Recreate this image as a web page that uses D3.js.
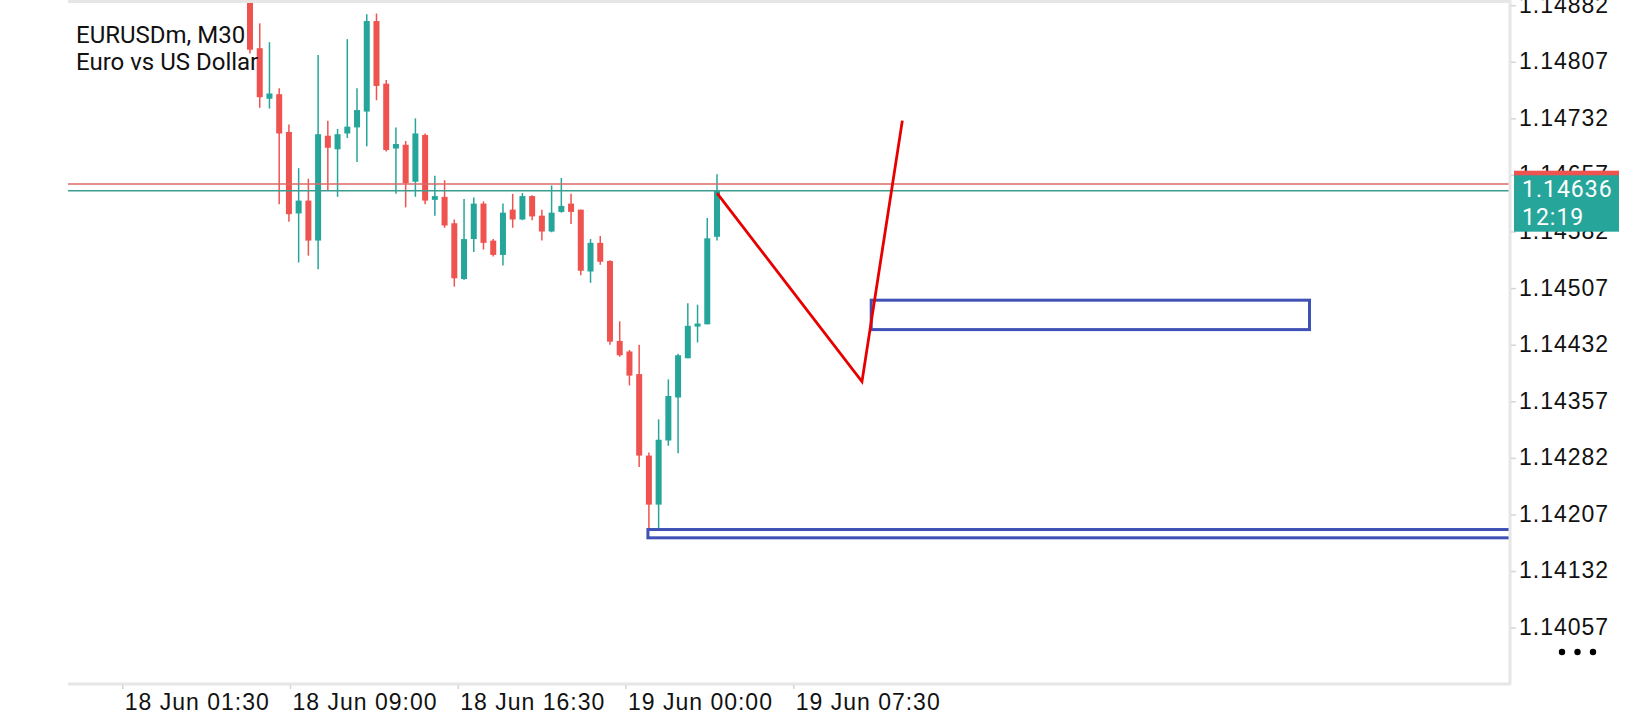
<!DOCTYPE html>
<html lang="en">
<head>
<meta charset="UTF-8">
<title>EURUSDm, M30</title>
<script src="https://d3js.org/d3.v7.min.js"></script>
<style>
  body { margin: 0; background: #fff; }
  svg { display: block; font-family: Roboto, "Noto Sans", sans-serif; }
  .axis text { font-size: 23px; fill: #111; letter-spacing: 1px; }
  .axis line { stroke: #d6d6d6; stroke-width: 1.5; }
</style>
</head>
<body>
<svg id="chart" width="1640" height="720"></svg>
<script>
// M30 candles, oldest first (first one runs off the top of the view)
const opens  = [1.14902, 1.14825, 1.14758, 1.14764, 1.14714, 1.14606, 1.14623, 1.14570, 1.14709, 1.14691,
                1.14712, 1.14720, 1.14741, 1.14861, 1.14778, 1.14692, 1.14697, 1.14648, 1.14710, 1.14624,
                1.14628, 1.14593, 1.14519, 1.14572, 1.14619, 1.14570, 1.14551, 1.14611, 1.14598, 1.14629,
                1.14603, 1.14582, 1.14608, 1.14619, 1.14611, 1.14529, 1.14567, 1.14543, 1.14437, 1.14423,
                1.14393, 1.14285, 1.14220, 1.14305, 1.14362, 1.14414, 1.14456, 1.14459, 1.14575];
const highs  = [1.14910, 1.14858, 1.14833, 1.14772, 1.14724, 1.14666, 1.14652, 1.14816, 1.14729, 1.14718,
                1.14837, 1.14772, 1.14870, 1.14871, 1.14783, 1.14720, 1.14702, 1.14732, 1.14712, 1.14656,
                1.14650, 1.14598, 1.14625, 1.14627, 1.14622, 1.14572, 1.14619, 1.14632, 1.14633, 1.14630,
                1.14611, 1.14643, 1.14653, 1.14632, 1.14611, 1.14572, 1.14576, 1.14544, 1.14463, 1.14425,
                1.14432, 1.14289, 1.14333, 1.14386, 1.14420, 1.14487, 1.14485, 1.14600, 1.14658];
const lows   = [1.14818, 1.14746, 1.14745, 1.14618, 1.14595, 1.14541, 1.14550, 1.14532, 1.14637, 1.14628,
                1.14706, 1.14674, 1.14695, 1.14756, 1.14688, 1.14632, 1.14614, 1.14628, 1.14618, 1.14603,
                1.14587, 1.14509, 1.14518, 1.14555, 1.14558, 1.14549, 1.14537, 1.14587, 1.14597, 1.14597,
                1.14570, 1.14581, 1.14607, 1.14592, 1.14524, 1.14514, 1.14538, 1.14432, 1.14416, 1.14378,
                1.14270, 1.14189, 1.14189, 1.14298, 1.14288, 1.14414, 1.14435, 1.14459, 1.14570];
const closes = [1.14823, 1.14760, 1.14765, 1.14712, 1.14605, 1.14623, 1.14570, 1.14711, 1.14693, 1.14711,
                1.14721, 1.14743, 1.14861, 1.14775, 1.14690, 1.14698, 1.14646, 1.14712, 1.14623, 1.14629,
                1.14590, 1.14520, 1.14572, 1.14619, 1.14567, 1.14551, 1.14607, 1.14598, 1.14629, 1.14602,
                1.14582, 1.14607, 1.14616, 1.14608, 1.14530, 1.14567, 1.14542, 1.14436, 1.14418, 1.14391,
                1.14285, 1.14220, 1.14306, 1.14364, 1.14418, 1.14457, 1.14460, 1.14573, 1.14636];

const bid = 1.14636, ask = 1.14645, timer = "12:19";

// price axis and time axis labels (time ticks sit at candle slots)
const yTicks = [1.14057, 1.14132, 1.14207, 1.14282, 1.14357, 1.14432, 1.14507, 1.14582, 1.14657, 1.14732, 1.14807, 1.14882];
const xTickAt = [-13.13, 4.11, 21.35, 38.59, 55.83];
const xTickLabels = ["18 Jun 01:30", "18 Jun 09:00", "18 Jun 16:30", "19 Jun 00:00", "19 Jun 07:30"];

// drawn objects: zig-zag trend line and two rectangles (slot, price)
const zigzagSlots  = [48, 62.9, 67.05];
const zigzagPrices = [1.14633, 1.14383, 1.14729];
const upperZone = { from: 63.85, to: 108.9, low: 1.14452, high: 1.14491 };
const lowerZone = { from: 40.9, to: null, low: 1.14176, high: 1.14187 };

const svg = d3.select("#chart");
const W = 1640, H = 720;
const plot = { left: 68, right: 1510, top: 3, bottom: 684 };

const x = d3.scaleLinear().domain([0, 48]).range([250, 717]);
const y = d3.scaleLinear().domain([1.14057, 1.14882]).range([627.6, 5.2]);

svg.append("rect").attr("width", W).attr("height", H).attr("fill", "#fff");

svg.append("defs").append("clipPath").attr("id", "plotClip")
   .append("rect")
   .attr("x", plot.left).attr("y", plot.top)
   .attr("width", plot.right - plot.left).attr("height", plot.bottom - plot.top);

const g = svg.append("g").attr("clip-path", "url(#plotClip)");

const candles = opens.map((o, i) => ({ i, o, h: highs[i], l: lows[i], c: closes[i] }));
const up = "#26a69a", down = "#ef5350";
const bodyW = 6;

// wicks
g.selectAll(".wick").data(candles).enter().append("line")
 .attr("x1", d => x(d.i)).attr("x2", d => x(d.i))
 .attr("y1", d => y(d.h)).attr("y2", d => y(d.l))
 .attr("stroke", d => d.c >= d.o ? up : down)
 .attr("stroke-width", 1.5);

// bodies
g.selectAll(".body").data(candles).enter().append("rect")
 .attr("x", d => x(d.i) - bodyW / 2)
 .attr("y", d => y(Math.max(d.o, d.c)))
 .attr("width", bodyW)
 .attr("height", d => Math.max(1.5, Math.abs(y(d.o) - y(d.c))))
 .attr("fill", d => d.c >= d.o ? up : down);

// ask / bid lines
g.append("line")
 .attr("x1", plot.left).attr("x2", plot.right)
 .attr("y1", y(ask)).attr("y2", y(ask))
 .attr("stroke", "#dd6a66").attr("stroke-width", 1.6);
g.append("line")
 .attr("x1", plot.left).attr("x2", plot.right)
 .attr("y1", y(bid)).attr("y2", y(bid))
 .attr("stroke", "#3a9d92").attr("stroke-width", 1.6);

// rectangles
[upperZone, lowerZone].forEach(z => {
  const x0 = x(z.from);
  const x1 = z.to === null ? plot.right + 10 : x(z.to);
  g.append("rect")
   .attr("x", x0).attr("y", y(z.high))
   .attr("width", x1 - x0).attr("height", y(z.low) - y(z.high))
   .attr("fill", "none")
   .attr("stroke", "#3f51b5").attr("stroke-width", 3);
});

// zig-zag trend line
const zz = zigzagSlots.map((s, k) => [s, zigzagPrices[k]]);
g.append("path")
 .datum(zz)
 .attr("d", d3.line().x(d => x(d[0])).y(d => y(d[1])))
 .attr("fill", "none")
 .attr("stroke", "#e80000").attr("stroke-width", 2.8);

// frame
const frame = "#e6e6e6";
svg.append("line").attr("x1", plot.left).attr("x2", plot.right).attr("y1", 1.5).attr("y2", 1.5)
   .attr("stroke", frame).attr("stroke-width", 3);
svg.append("line").attr("x1", plot.left).attr("x2", plot.right + 1).attr("y1", plot.bottom).attr("y2", plot.bottom)
   .attr("stroke", frame).attr("stroke-width", 3);
svg.append("line").attr("x1", plot.right).attr("x2", plot.right).attr("y1", 0).attr("y2", plot.bottom)
   .attr("stroke", frame).attr("stroke-width", 3);

// price axis
const yAxis = svg.append("g").attr("class", "axis")
   .attr("transform", `translate(${plot.right + 1},0)`)
   .call(d3.axisRight(y).tickValues(yTicks).tickSize(5).tickPadding(3).tickFormat(d3.format(".5f")));
yAxis.select(".domain").remove();
yAxis.selectAll("text").attr("dy", "0.3em");

// time axis
const xAxis = svg.append("g").attr("class", "axis")
   .attr("transform", `translate(0,${plot.bottom + 1})`)
   .call(d3.axisBottom(x).tickValues(xTickAt).tickSize(4).tickFormat((d, k) => xTickLabels[k]));
xAxis.select(".domain").remove();
xAxis.selectAll("text").attr("text-anchor", "start").attr("x", 2).attr("y", 9).attr("dy", "0.71em");

// ask / bid price tags
const tagX = 1514, tagW = 105;
svg.append("rect").attr("x", tagX).attr("y", y(ask) - 13.3).attr("width", tagW).attr("height", 26.6).attr("fill", down);
svg.append("rect").attr("x", tagX).attr("y", y(bid) - 15.5).attr("width", tagW).attr("height", 56.4).attr("fill", up);
svg.append("text").attr("x", tagX + 8).attr("y", y(bid) + 6)
   .attr("fill", "#fff").attr("font-size", 23).attr("letter-spacing", 1).text(d3.format(".5f")(bid));
svg.append("text").attr("x", tagX + 8).attr("y", y(bid) + 34)
   .attr("fill", "#fff").attr("font-size", 23).attr("letter-spacing", 1).text(timer);

// menu dots
svg.selectAll(".dot").data([0, 1, 2]).enter().append("circle")
   .attr("cx", d => 1562 + d * 15.5).attr("cy", 652).attr("r", 3.2).attr("fill", "#000");

// symbol caption
svg.append("text").attr("x", 76).attr("y", 43).attr("font-size", 24).attr("fill", "#111").text("EURUSDm, M30");
svg.append("text").attr("x", 76).attr("y", 70).attr("font-size", 24).attr("fill", "#111").text("Euro vs US Dollar");
</script>
</body>
</html>
